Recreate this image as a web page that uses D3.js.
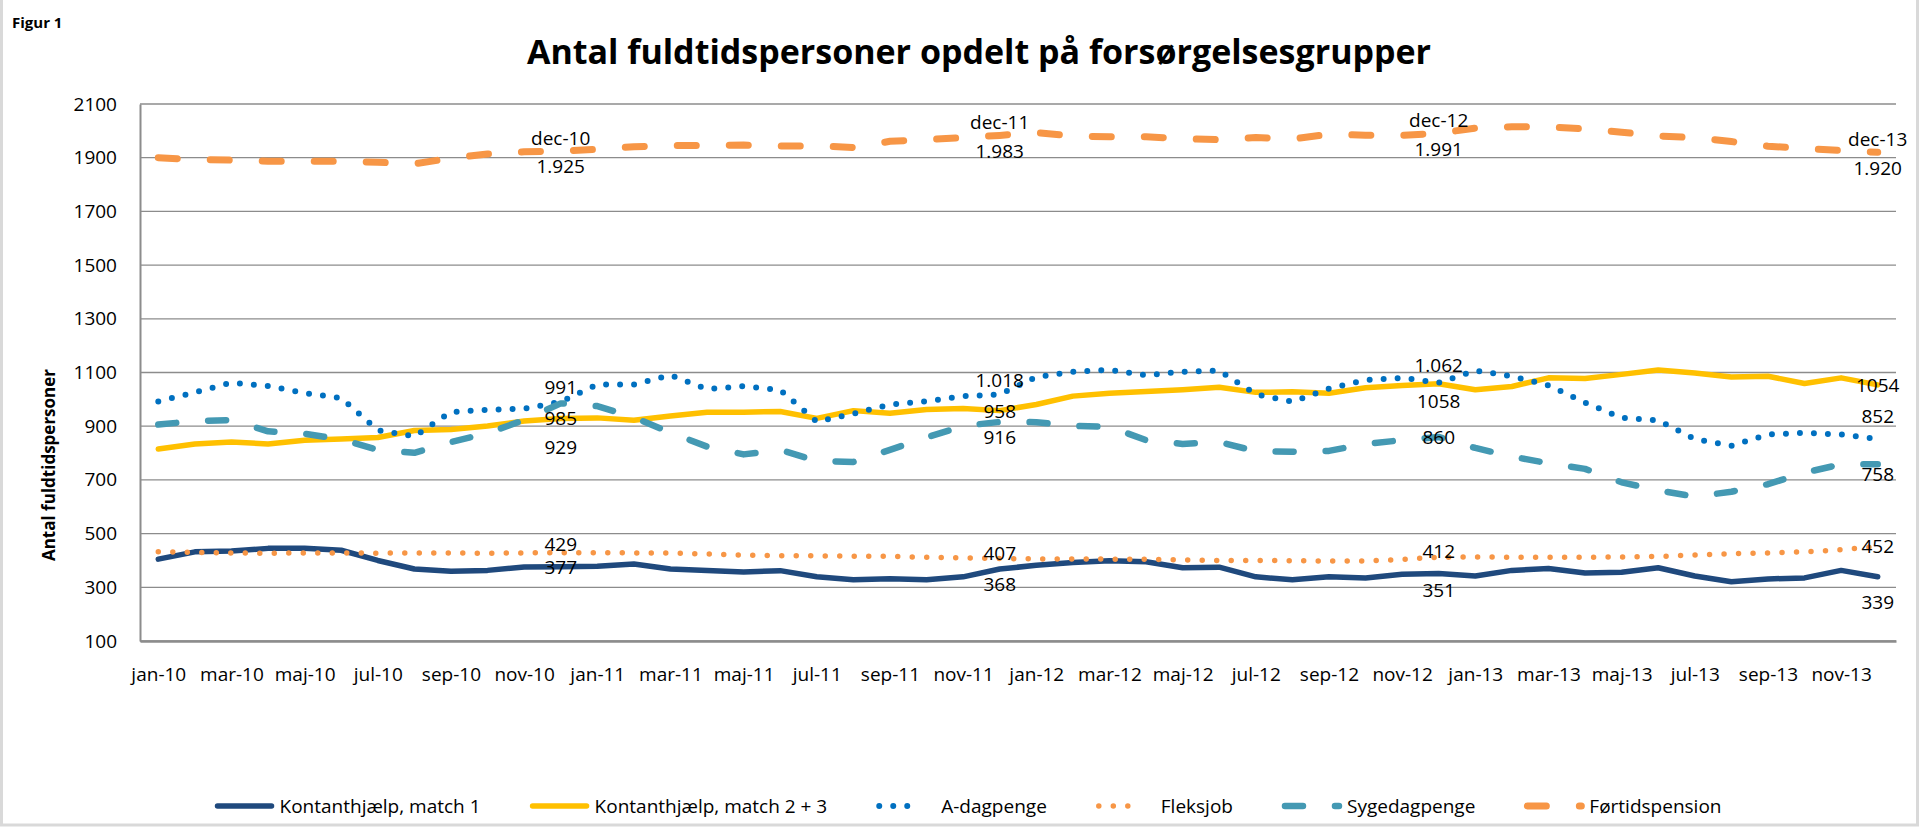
<!DOCTYPE html>
<html>
<head>
<meta charset="utf-8">
<script src="https://cdn.jsdelivr.net/npm/d3@7"></script>
<style>
body{margin:0;background:#fff;}
svg{display:block;}
</style>
</head>
<body>
<div id="chart"></div>
<script>
// months jan-10 .. dec-13
var months=["jan-10","feb-10","mar-10","apr-10","maj-10","jun-10","jul-10","aug-10","sep-10","okt-10","nov-10","dec-10",
"jan-11","feb-11","mar-11","apr-11","maj-11","jun-11","jul-11","aug-11","sep-11","okt-11","nov-11","dec-11",
"jan-12","feb-12","mar-12","apr-12","maj-12","jun-12","jul-12","aug-12","sep-12","okt-12","nov-12","dec-12",
"jan-13","feb-13","mar-13","apr-13","maj-13","jun-13","jul-13","aug-13","sep-13","okt-13","nov-13","dec-13"];

var kontMatch1=[405,432,435,445,445,438,400,368,360,363,376,377,
378,387,368,363,357,362,339,328,332,328,339,368,
382,392,399,395,373,375,339,328,339,335,349,351,
342,363,370,353,356,373,342,321,331,335,363,339];

var kontMatch23=[815,834,841,834,848,852,858,884,888,901,919,929,
931,922,938,952,952,955,929,958,948,962,966,958,
981,1012,1023,1029,1036,1045,1026,1028,1023,1043,1052,1058,
1036,1048,1080,1078,1093,1109,1098,1083,1086,1059,1080,1054];

var aDagpenge=[992,1026,1062,1050,1023,1005,885,862,953,961,965,991,
1055,1055,1090,1038,1049,1035,917,946,981,993,1012,1018,
1083,1103,1110,1090,1103,1107,1019,991,1040,1072,1080,1062,
1107,1086,1052,988,931,922,852,827,869,875,869,852];

var fleksjob=[432,430,428,427,428,428,427,428,428,427,428,429,
429,428,428,424,420,418,417,416,415,412,410,407,
406,405,405,404,402,400,400,399,398,398,404,412,
413,412,412,412,413,415,420,425,428,432,440,452];

var sygedagpenge=[906,919,923,881,872,851,812,801,841,874,923,985,
975,933,876,824,795,812,770,767,812,858,901,916,
915,901,898,848,834,841,807,805,808,834,848,860,
819,787,762,741,691,661,638,656,684,727,758,758];

var fortidspension=[1900,1893,1891,1887,1887,1887,1883,1877,1898,1914,1922,1925,
1931,1941,1945,1945,1947,1944,1944,1938,1961,1967,1975,1983,
1993,1981,1978,1978,1971,1967,1975,1970,1987,1984,1983,1991,
2010,2015,2015,2007,1995,1981,1975,1960,1943,1934,1927,1920];

var yTicks=[100,300,500,700,900,1100,1300,1500,1700,1900,2100];
var xTickLabels=months.filter(function(d,i){return i%2==0;});
var labelMonths=["dec-10","dec-11","dec-12","dec-13"];

var width=1919,height=833;
var plotLeft=140,plotRight=1896,plotTop=104,plotBottom=641;
var font="'Open Sans', sans-serif";

var series=[
  {name:"Kontanthjælp, match 1",values:kontMatch1,color:"#1F497D",w:5.5,dash:null,cap:"round",dy:[0,15,16,25]},
  {name:"Kontanthjælp, match 2 + 3",values:kontMatch23,color:"#FFC000",w:5.5,dash:null,cap:"round",dy:[29,0,17,0]},
  {name:"A-dagpenge",values:aDagpenge,color:"#0070C0",w:6,dash:"0,14",cap:"round",dy:[-15,-14.5,-18,-23],sep:true,dots:true},
  {name:"Fleksjob",values:fleksjob,color:"#F79646",w:5.5,dash:"0,14.5",cap:"round",dy:[-9,-6,-6,0],dots:true},
  {name:"Sygedagpenge",values:sygedagpenge,color:"#4499B3",w:6.5,dash:"18,32",cap:"round",dy:[15,15,0,9.5]},
  {name:"Førtidspension",values:fortidspension,color:"#F79646",w:7,dash:"19,33",cap:"round",dy:null,sep:true,cat:true}
];

var svg=d3.select("#chart").append("svg")
  .attr("width",width).attr("height",height)
  .style("font-family",font);

svg.append("rect").attr("x",0).attr("y",0).attr("width",width).attr("height",height).attr("fill","#fff");
// faint frame
svg.append("rect").attr("x",1.5).attr("y",-3).attr("width",width-3).attr("height",height-5)
  .attr("fill","none").attr("stroke","#d9d9d9").attr("stroke-width",3);

var x=d3.scalePoint().domain(months).range([plotLeft,plotRight]).padding(0.5);
var y=d3.scaleLinear().domain([100,2100]).range([plotBottom,plotTop]);

// gridlines
svg.append("g").selectAll("line").data(yTicks).enter().append("line")
  .attr("x1",plotLeft).attr("x2",plotRight)
  .attr("y1",function(d){return y(d);}).attr("y2",function(d){return y(d);})
  .attr("stroke","#8c8c8c").attr("stroke-width",1.3);

// y axis
var yAxis=svg.append("g").attr("transform","translate("+plotLeft+",0)")
  .call(d3.axisLeft(y).tickValues(yTicks).tickSize(0).tickPadding(23).tickFormat(d3.format("d")));
yAxis.select(".domain").attr("stroke","#8c8c8c").attr("stroke-width",2);
yAxis.selectAll("text").attr("font-size",19).attr("fill","#000").attr("font-family",font);

// x axis
var xAxis=svg.append("g").attr("transform","translate(0,"+plotBottom+")")
  .call(d3.axisBottom(x).tickValues(xTickLabels).tickSize(0).tickPadding(27));
xAxis.select(".domain").attr("stroke","#8c8c8c").attr("stroke-width",2.5);
xAxis.selectAll("text").attr("font-size",19).attr("fill","#000").attr("font-family",font);

// lines
var line=d3.line()
  .x(function(d,i){return x(months[i]);})
  .y(function(d){return y(d);});

svg.append("g").selectAll("path").data(series).enter().append("path")
  .attr("d",function(s){return line(s.values);})
  .attr("fill","none")
  .attr("stroke",function(s){return s.color;})
  .attr("stroke-width",function(s){return s.w;})
  .attr("stroke-dasharray",function(s){return s.dash;})
  .attr("stroke-linecap",function(s){return s.cap;})
  .attr("stroke-linejoin","round");

// data labels
var dk=d3.formatLocale({decimal:",",thousands:".",grouping:[3],currency:["","kr"]});
var labels=svg.append("g").attr("font-size",19).attr("fill","#000");
series.forEach(function(s){
  labelMonths.forEach(function(m,k){
    var i=months.indexOf(m);
    var v=s.values[i];
    var txt=s.sep?dk.format(",d")(v):String(v);
    if(s.cat){
      labels.append("text").attr("x",x(m)).attr("y",y(v)-13)
        .attr("text-anchor","middle").attr("dominant-baseline","central").text(m);
      labels.append("text").attr("x",x(m)).attr("y",y(v)+15.5)
        .attr("text-anchor","middle").attr("dominant-baseline","central").text(txt);
    } else {
      labels.append("text").attr("x",x(m)).attr("y",y(v)+s.dy[k])
        .attr("text-anchor","middle").attr("dominant-baseline","central").text(txt);
    }
  });
});

// title
svg.append("text").attr("x",979).attr("y",64).attr("text-anchor","middle")
  .attr("font-size",34).attr("font-weight","bold").text("Antal fuldtidspersoner opdelt på forsørgelsesgrupper");
svg.append("text").attr("x",12).attr("y",28)
  .attr("font-size",15).attr("font-weight","bold").text("Figur 1");
svg.append("text").attr("transform","translate(48,465) rotate(-90)").attr("text-anchor","middle")
  .attr("dominant-baseline","central").attr("font-size",17).attr("font-weight","bold").text("Antal fuldtidspersoner");

// legend
var legend=svg.append("g").attr("font-size",19);
var items=legend.selectAll("g").data(series).enter().append("g");
items.append("line")
  .attr("x1",3).attr("x2",function(s){return s.dots?45:57;})
  .attr("y1",0).attr("y2",0)
  .attr("stroke",function(s){return s.color;})
  .attr("stroke-width",function(s){return s.w;})
  .attr("stroke-dasharray",function(s){return s.dash;})
  .attr("stroke-linecap",function(s){return s.cap;});
items.append("text").attr("x",65).attr("y",0).attr("dominant-baseline","central")
  .text(function(s){return s.name;});
var widths=[];
items.each(function(){widths.push(65+d3.select(this).select("text").node().getComputedTextLength());});
var gap=49;
var total=d3.sum(widths)+gap*(widths.length-1);
var pos=968-total/2;
items.attr("transform",function(s,i){
  var t="translate("+pos+",806)";
  pos+=widths[i]+gap;
  return t;
});
</script>
</body>
</html>
